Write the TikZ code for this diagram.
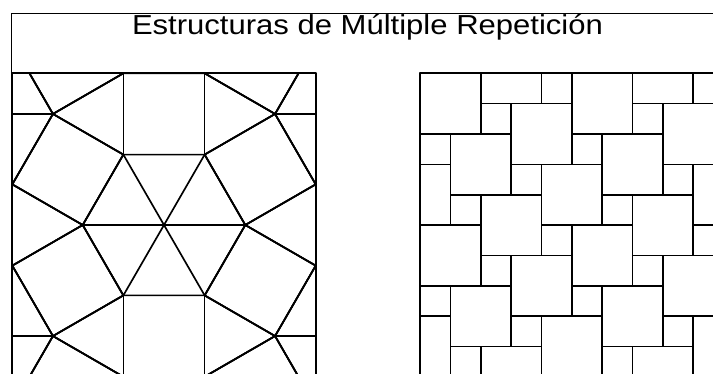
\documentclass[tikz,border=0pt]{standalone}
\usepackage{fontspec}
\newfontfamily\titlefont{Liberation Sans}
\usepackage{tikz}

\begin{document}
\begin{tikzpicture}[x=0.75pt,y=0.75pt,yscale=-1,xscale=1,
  tile/.style={line width=1.25pt,line join=round},
  frame/.style={line width=0.9pt}]
\useasboundingbox (0,0) rectangle (713,374);

%Shape: Frame
\draw [frame] (713,13.3) -- (11.7,13.3) -- (11.7,374) ;

% Text Node
\node (title) at (367.5,34.3) [anchor=base,font=\titlefont\fontsize{20.6}{24}\selectfont] {\scalebox{1.13}[1]{Estructuras de Múltiple Repetición}};

%Shape: Squares and triangles (left)
\begin{scope}
\clip (12.3,73.3) rectangle (315.7,380);
\foreach \i in {-1,0,1}{
  \foreach \j in {-2,...,2}{
    \pgfmathsetmacro\px{164+192.35*\i}
    \pgfmathsetmacro\py{225+111.05*\i+222.1*\j}
    \begin{scope}[shift={(\px,\py)}]
      % hexagon of six triangles
      \draw [tile] (0:81.3) -- (60:81.3) -- (120:81.3) -- (180:81.3) -- (240:81.3) -- (300:81.3) -- cycle ;
      \draw [tile] (0:81.3) -- (180:81.3) (60:81.3) -- (240:81.3) (120:81.3) -- (300:81.3) ;
      \foreach \k in {0,...,5}{
        % square on the hexagon edge
        \draw [tile] ({60*\k}:81.3) -- ++({60*\k+30}:81.3) -- ++({60*\k+120}:81.3) -- ++({60*\k+210}:81.3) -- cycle ;
        % triangle between two squares
        \draw [tile] ({60*\k}:81.3) ++({60*\k-30}:81.3) -- ++({60*\k+90}:81.3) ;
      }
    \end{scope}
  }
}
\end{scope}
%Shape: Rectangle (left border)
\draw [tile] (12.3,380) -- (12.3,73.3) -- (315.7,73.3) -- (315.7,380) ;

%Shape: Two sizes of squares (right)
\begin{scope}
\clip (420,73.3) rectangle (720,380);
\foreach \m in {-3,...,6}{
  \foreach \n in {-3,...,6}{
    \pgfmathsetmacro\bx{420+30.35*(2*\m+\n)}
    \pgfmathsetmacro\by{73.3+30.35*(2*\n-\m)}
    \draw [tile] (\bx,\by) rectangle ++(60.7,60.7) ;
    \draw [tile] (\bx+60.7,\by+30.35) rectangle ++(30.35,30.35) ;
  }
}
\end{scope}
%Shape: Rectangle (right border)
\draw [tile] (420,380) -- (420,73.3) -- (720,73.3) ;

\end{tikzpicture}
\end{document}
